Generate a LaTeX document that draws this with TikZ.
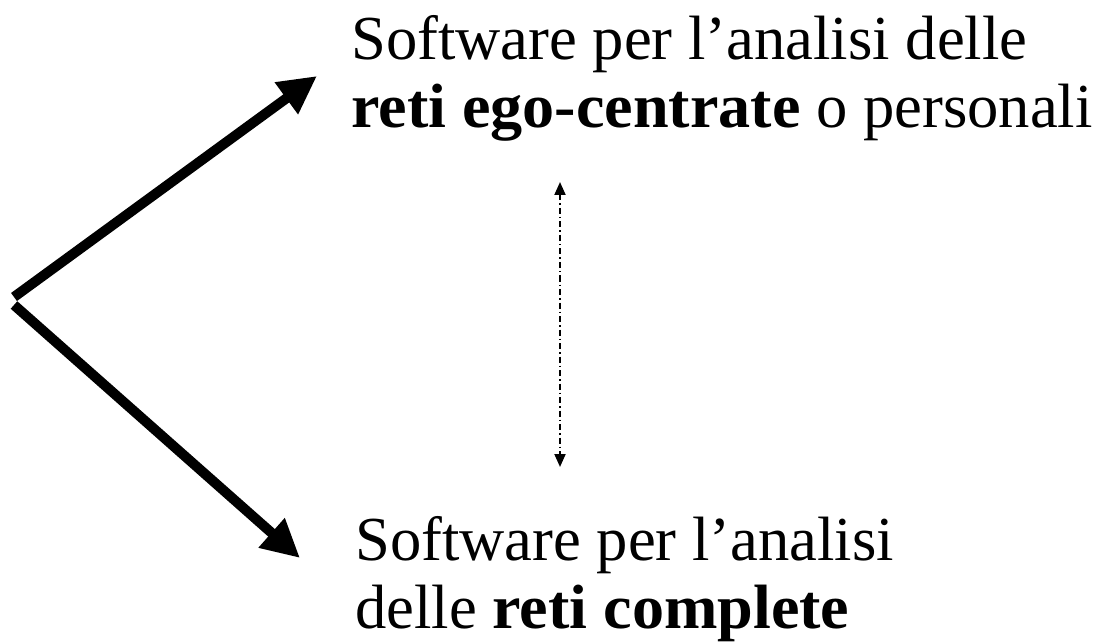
\documentclass[tikz,border=0pt]{standalone}
\usepackage{fontspec}
\setmainfont{Liberation Serif}
\usetikzlibrary{arrows.meta}
\newcommand{\keyterm}[1]{{\bfseries\addfontfeature{FakeStretch=1.025}#1}}
\begin{document}
\begin{tikzpicture}[x=1pt,y=-1pt,
  label text/.style={anchor=north west,inner sep=0pt,align=left,
    font=\fontsize{62.6}{68}\selectfont},
  thick arrow/.style={line width=10pt,-{Triangle[length=38pt,width=37pt]}},
  link arrow/.style={line width=2pt,dash pattern=on 6pt off 3pt on 1.5pt off 3pt,
    {Triangle[length=13pt,width=11pt]}-{Triangle[length=13pt,width=11pt]}}]
  \useasboundingbox (0,0) rectangle (1105,644);
  % text blocks
  \node[label text] (ego) at (351,15) {Software per l’analisi delle\\\keyterm{reti ego-centrate} o personali};
  \node[label text] (full) at (355,516) {Software per l’analisi\\delle \keyterm{reti complete}};
  % branching arrows
  \coordinate (startA) at (14,297);
  \coordinate (startB) at (14,305);
  \coordinate (tipA) at (317,76);
  \coordinate (tipB) at (300,558);
  \draw[thick arrow] (startA) -- (tipA);
  \draw[thick arrow] (startB) -- (tipB);
  % link between the two categories
  \coordinate (linkTop) at (560,182);
  \coordinate (linkBot) at (560,467);
  \draw[link arrow] (linkTop) -- (linkBot);
\end{tikzpicture}
\end{document}
